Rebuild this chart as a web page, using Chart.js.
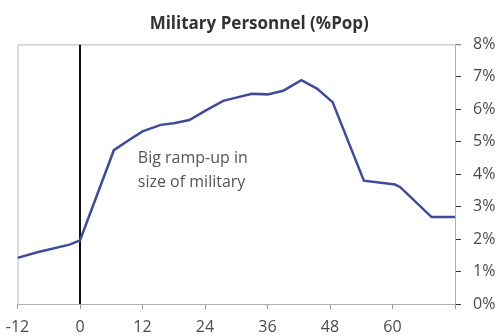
<!DOCTYPE html>
<html>
<head>
<meta charset="utf-8">
<script src="https://cdn.jsdelivr.net/npm/chart.js@4.4.1/dist/chart.umd.min.js"></script>
<style>
  html, body { margin: 0; padding: 0; background: #ffffff; }
  #wrap { width: 501px; height: 336px; position: relative; }
</style>
</head>
<body>
<div id="wrap"><canvas id="chart" width="501" height="336"></canvas></div>
<script>
// Months relative to the start of the build-up (0 = start)
const months = [-12, -8, -2, 0, 6.5, 9.5, 12, 15.5, 18, 21, 24, 27.5, 30, 33, 36, 39, 42.5, 45.5, 48.5, 54.5, 60.5, 61.5, 67.5, 72];
// Military personnel as % of population
const personnelPct = [1.42, 1.60, 1.83, 1.96, 4.74, 5.06, 5.32, 5.52, 5.57, 5.67, 5.95, 6.26, 6.36, 6.48, 6.46, 6.57, 6.90, 6.64, 6.22, 3.80, 3.68, 3.60, 2.68, 2.68];
// Marker for month zero
const startMonth = [0, 0];
const startRange = [0, 8];
// Axis ticks
const xTicks = [-12, 0, 12, 24, 36, 48, 60];
const yTicks = [0, 1, 2, 3, 4, 5, 6, 7, 8];
const noteLines = ['Big ramp-up in', 'size of military'];

const FONT = '"Open Sans", "Noto Sans", sans-serif';

// Light frame on the left and top edges of the plot area
const framePlugin = {
  id: 'frame',
  beforeDatasetsDraw(chart) {
    const { ctx, chartArea: a } = chart;
    ctx.save();
    ctx.strokeStyle = '#b8b8b8';
    ctx.lineWidth = 1;
    ctx.beginPath();
    ctx.moveTo(a.left + 0.5, a.bottom);
    ctx.lineTo(a.left + 0.5, a.top + 0.5);
    ctx.lineTo(a.right + 6, a.top + 0.5);
    ctx.stroke();
    ctx.restore();
  }
};

// Text note beside the steep rise
const notePlugin = {
  id: 'note',
  afterDatasetsDraw(chart) {
    const { ctx, scales } = chart;
    const x = scales.x.getPixelForValue(11.1);
    const y = scales.y.getPixelForValue(4.5);
    ctx.save();
    ctx.font = '16px ' + FONT;
    ctx.fillStyle = '#555555';
    ctx.textAlign = 'left';
    ctx.textBaseline = 'middle';
    noteLines.forEach((t, i) => ctx.fillText(t, x, y + i * 24));
    ctx.restore();
  }
};

new Chart(document.getElementById('chart'), {
  type: 'line',
  data: {
    datasets: [
      {
        data: months.map((m, i) => ({ x: m, y: personnelPct[i] })),
        borderColor: '#3c4b9c',
        borderWidth: 2.5,
        pointRadius: 0,
        tension: 0,
        fill: false
      },
      {
        data: startMonth.map((m, i) => ({ x: m, y: startRange[i] })),
        borderColor: '#111111',
        borderWidth: 2,
        pointRadius: 0,
        fill: false
      }
    ]
  },
  options: {
    responsive: false,
    animation: false,
    layout: { padding: { left: 17.5, right: 0, top: 0, bottom: 0 } },
    plugins: {
      legend: { display: false },
      tooltip: { enabled: false },
      title: {
        display: true,
        text: 'Military Personnel (%Pop)',
        color: '#333333',
        font: { family: FONT, size: 17, weight: 'bold', lineHeight: 1.2 },
        padding: { top: 14, bottom: 10 }
      }
    },
    scales: {
      x: {
        type: 'linear',
        min: -12,
        max: 72,
        afterBuildTicks: (s) => { s.ticks = xTicks.concat([72]).map(v => ({ value: v })); },
        afterFit: (s) => { s.height = 32; s.paddingLeft = 0; s.paddingRight = 0; },
        ticks: {
          color: '#4a4a4a',
          font: { family: FONT, size: 16 },
          padding: 9,
          maxRotation: 0,
          callback: (v) => (xTicks.includes(v) ? String(v) : '')
        },
        grid: { drawOnChartArea: false, drawTicks: true, tickLength: 5, tickColor: '#9a9a9a' },
        border: { display: true, color: '#b0b0b0', width: 1 }
      },
      y: {
        position: 'right',
        min: 0,
        max: 8,
        afterBuildTicks: (s) => { s.ticks = yTicks.map(v => ({ value: v })); },
        afterFit: (s) => { s.width = 46; },
        ticks: {
          color: '#4a4a4a',
          font: { family: FONT, size: 16 },
          padding: 12,
          callback: (v) => v + '%'
        },
        grid: { drawOnChartArea: false, drawTicks: true, tickLength: 6, tickColor: '#333333' },
        border: { display: true, color: '#b0b0b0', width: 1 }
      }
    }
  },
  plugins: [framePlugin, notePlugin]
});
</script>
</body>
</html>
